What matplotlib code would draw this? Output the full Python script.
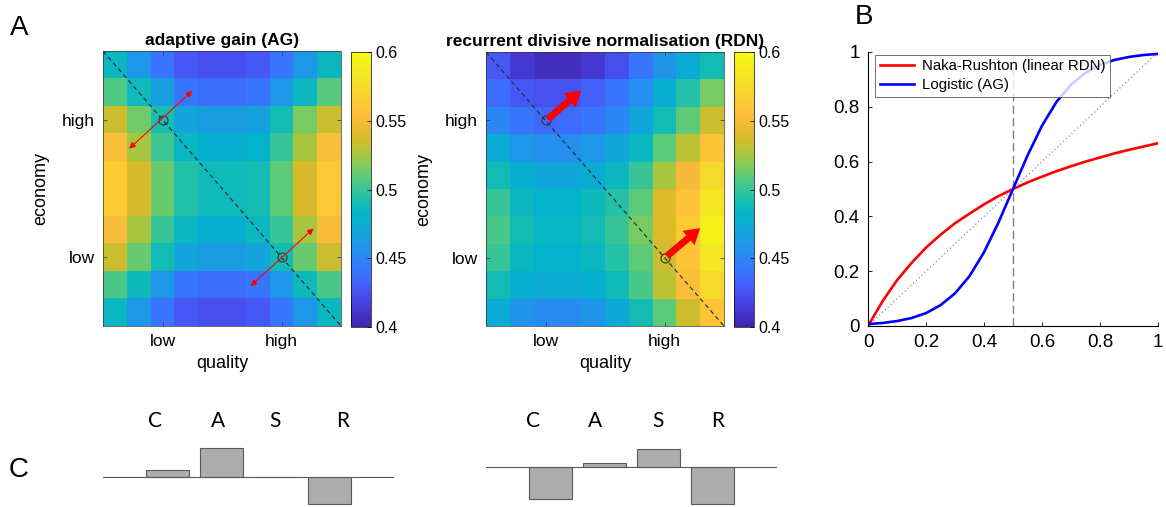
import numpy as np
import matplotlib
matplotlib.use("Agg")
from matplotlib import pyplot as plt
from matplotlib.colors import LinearSegmentedColormap

plt.rcParams["font.family"] = ["Liberation Sans", "DejaVu Sans"]

# heatmap values (rows: economy high -> low, cols: quality low -> high)
ag_map = [
    [0.485, 0.460, 0.440, 0.428, 0.424, 0.424, 0.428, 0.440, 0.460, 0.485],
    [0.506, 0.488, 0.465, 0.440, 0.437, 0.437, 0.440, 0.460, 0.486, 0.508],
    [0.534, 0.514, 0.492, 0.468, 0.464, 0.464, 0.467, 0.490, 0.515, 0.534],
    [0.555, 0.525, 0.502, 0.484, 0.478, 0.478, 0.480, 0.500, 0.525, 0.555],
    [0.565, 0.538, 0.512, 0.494, 0.488, 0.488, 0.490, 0.510, 0.538, 0.563],
    [0.565, 0.538, 0.512, 0.494, 0.488, 0.488, 0.490, 0.510, 0.538, 0.563],
    [0.552, 0.525, 0.500, 0.485, 0.478, 0.478, 0.485, 0.500, 0.525, 0.552],
    [0.534, 0.512, 0.490, 0.468, 0.464, 0.464, 0.468, 0.490, 0.512, 0.534],
    [0.505, 0.487, 0.460, 0.440, 0.437, 0.437, 0.440, 0.460, 0.487, 0.505],
    [0.485, 0.460, 0.440, 0.428, 0.424, 0.424, 0.428, 0.440, 0.460, 0.485],
]
rdn_map = [
    [0.428, 0.412, 0.406, 0.406, 0.412, 0.424, 0.440, 0.458, 0.475, 0.490],
    [0.436, 0.428, 0.425, 0.425, 0.432, 0.440, 0.455, 0.478, 0.495, 0.515],
    [0.450, 0.440, 0.434, 0.436, 0.440, 0.450, 0.470, 0.490, 0.510, 0.535],
    [0.475, 0.460, 0.455, 0.455, 0.460, 0.470, 0.485, 0.510, 0.530, 0.560],
    [0.490, 0.478, 0.470, 0.470, 0.475, 0.485, 0.500, 0.525, 0.550, 0.575],
    [0.500, 0.485, 0.480, 0.480, 0.487, 0.495, 0.510, 0.540, 0.560, 0.585],
    [0.505, 0.490, 0.483, 0.483, 0.490, 0.500, 0.515, 0.540, 0.565, 0.592],
    [0.500, 0.485, 0.480, 0.480, 0.485, 0.495, 0.510, 0.535, 0.560, 0.585],
    [0.490, 0.478, 0.475, 0.475, 0.478, 0.488, 0.505, 0.530, 0.555, 0.575],
    [0.475, 0.458, 0.452, 0.452, 0.458, 0.472, 0.490, 0.510, 0.535, 0.560],
]
tick_pos = [3, 8]
quality_labels = ["low", "high"]
economy_labels = ["high", "low"]
cbar_ticks = [0.4, 0.45, 0.5, 0.55, 0.6]

# panel B: transfer functions
x_in = [0.0, 0.05, 0.1, 0.15, 0.2, 0.25, 0.3, 0.35, 0.4, 0.45, 0.5,
        0.55, 0.6, 0.65, 0.7, 0.75, 0.8, 0.85, 0.9, 0.95, 1.0]
naka_rushton = [0.0, 0.09, 0.167, 0.23, 0.286, 0.333, 0.375, 0.41, 0.444, 0.474, 0.5,
                0.524, 0.545, 0.565, 0.583, 0.6, 0.615, 0.63, 0.643, 0.655, 0.667]
logistic = [0.007, 0.011, 0.018, 0.029, 0.047, 0.076, 0.119, 0.182, 0.269, 0.378, 0.5,
            0.622, 0.731, 0.818, 0.881, 0.924, 0.953, 0.971, 0.982, 0.989, 0.993]

# panel C: bar heights (arbitrary units)
casr = ["C", "A", "S", "R"]
bars_left = [6.7, 29, 0, -27.7]
bars_right = [-32, 4, 18, -37]

# approximate MATLAB parula
parula = LinearSegmentedColormap.from_list("parula", [
    (0.00, (0.2422, 0.1504, 0.6603)), (0.05, (0.2691, 0.2072, 0.8050)),
    (0.10, (0.2783, 0.2810, 0.9130)), (0.15, (0.2700, 0.3700, 0.9800)),
    (0.20, (0.2200, 0.4600, 0.9950)), (0.25, (0.1700, 0.5300, 0.9650)),
    (0.30, (0.1150, 0.5950, 0.9050)), (0.35, (0.0650, 0.6550, 0.8500)),
    (0.40, (0.0150, 0.7000, 0.8000)), (0.45, (0.0700, 0.7400, 0.7100)),
    (0.50, (0.2100, 0.7750, 0.6000)), (0.55, (0.3700, 0.7950, 0.4700)),
    (0.60, (0.5600, 0.7950, 0.3200)), (0.65, (0.7400, 0.7600, 0.2000)),
    (0.70, (0.8700, 0.7300, 0.1700)), (0.75, (0.9700, 0.7300, 0.2300)),
    (0.80, (0.9950, 0.7700, 0.2200)), (0.85, (0.9750, 0.8300, 0.1800)),
    (0.90, (0.9600, 0.8800, 0.1500)), (0.95, (0.9600, 0.9300, 0.1100)),
    (1.00, (0.9769, 0.9839, 0.0805)),
])

W, H = 1166, 507
fig = plt.figure(figsize=(W / 100, H / 100), dpi=100)


def px_axes(x0, y0, x1, y1):
    return fig.add_axes([x0 / W, 1 - y1 / H, (x1 - x0) / W, (y1 - y0) / H])


def heatmap(ax, cax, data, title):
    im = ax.imshow(np.array(data), cmap=parula, vmin=0.4, vmax=0.6, aspect="auto",
                   extent=(0.5, 10.5, 10.5, 0.5), interpolation="nearest")
    ax.plot([0.5, 10.5], [0.5, 10.5], color="0.15", lw=0.8, dashes=(4, 3))
    for p in tick_pos:
        ax.plot(p, p, "o", mfc="none", mec="0.2", ms=6.5, mew=0.8)
    ax.set_xticks(tick_pos, quality_labels)
    ax.set_yticks(tick_pos, economy_labels)
    ax.tick_params(direction="in", top=True, right=True, length=3, width=0.5,
                   labelsize=12.5, color="0.2", pad=6)
    ax.set_xlabel("quality", fontsize=13, labelpad=4)
    ax.set_ylabel("economy", fontsize=13, labelpad=9)
    ax.set_title(title, fontsize=12.5, fontweight="bold", pad=4)
    for s in ax.spines.values():
        s.set_linewidth(0.5)
        s.set_color("0.2")
    cb = fig.colorbar(im, cax=cax, ticks=cbar_ticks)
    cb.ax.set_yticklabels([f"{t:g}" for t in cbar_ticks])
    cb.ax.tick_params(direction="in", length=3, width=0.5, labelsize=11.5, pad=3)
    cb.outline.set_linewidth(0.5)
    return im


ax_ag = px_axes(103, 51, 341, 326)
cax_ag = px_axes(351, 52, 371, 327)
heatmap(ax_ag, cax_ag, ag_map, "adaptive gain (AG)")
thin = dict(arrowstyle="<|-|>", color="red", lw=0.8, mutation_scale=9, shrinkA=0, shrinkB=0)
ax_ag.annotate("", xy=(4.25, 1.95), xytext=(1.6, 4.05), arrowprops=thin)
ax_ag.annotate("", xy=(9.35, 6.95), xytext=(6.7, 9.05), arrowprops=thin)

ax_rdn = px_axes(486, 52, 724, 326)
cax_rdn = px_axes(734, 52, 754, 327)
heatmap(ax_rdn, cax_rdn, rdn_map, "recurrent divisive normalisation (RDN)")
thick = dict(arrowstyle="simple,head_length=1.1,head_width=1.35,tail_width=0.5",
             color="red", lw=0, mutation_scale=10, shrinkA=0, shrinkB=0)
ax_rdn.annotate("", xy=(4.5, 1.9), xytext=(3.1, 2.95), arrowprops=thick)
ax_rdn.annotate("", xy=(9.5, 6.93), xytext=(8.1, 7.95), arrowprops=thick)

# panel B
ax_b = px_axes(868, 52, 1158, 326)
ax_b.plot([0, 1], [0, 1], color="0.45", lw=0.8, ls=(0, (1, 2.5)))
ax_b.plot([0.5, 0.5], [0, 1], color="0.5", lw=1.0, ls=(0, (6, 3)))
ax_b.plot(x_in, naka_rushton, color="red", lw=1.9, label="Naka-Rushton (linear RDN)")
ax_b.plot(x_in, logistic, color="blue", lw=1.9, label="Logistic (AG)")
ax_b.set_xlim(0, 1)
ax_b.set_ylim(0, 1)
ax_b.set_xticks([0, 0.2, 0.4, 0.6, 0.8, 1], ["0", "0.2", "0.4", "0.6", "0.8", "1"])
ax_b.set_yticks([0, 0.2, 0.4, 0.6, 0.8, 1], ["0", "0.2", "0.4", "0.6", "0.8", "1"])
ax_b.tick_params(direction="in", length=3, width=0.6, labelsize=13.5, pad=6)
for side in ["top", "right"]:
    ax_b.spines[side].set_visible(False)
for side in ["left", "bottom"]:
    ax_b.spines[side].set_linewidth(0.8)
leg = ax_b.legend(loc="upper left", bbox_to_anchor=(0.025, 0.99), fontsize=10.8,
                  frameon=True, fancybox=False, edgecolor="0.2", handlelength=2.3,
                  borderpad=0.3, labelspacing=0.35, handletextpad=0.5, borderaxespad=0)
leg.get_frame().set_linewidth(0.6)

# panel C
letter_font = ["Lato", "DejaVu Sans"]
for (x0, x1, base_y, vals, label_x) in [
    (103, 394, 476.7, bars_left, [-0.24, 0.93, 1.99, 3.25]),
    (486, 777, 467, bars_right, [-0.33, 0.83, 2.0, 3.1]),
]:
    ax = px_axes(x0, 405, x1, 507)
    ax.bar(range(len(casr)), vals, width=0.8, color="0.68", edgecolor="0.35", lw=0.8)
    ax.axhline(0, color="0.35", lw=0.8)
    ax.set_xlim(-1.2, 4.2)
    ax.set_ylim(-(507 - base_y), base_y - 405)
    ax.axis("off")
    for lx, name in zip(label_x, casr):
        ax.text(lx, base_y - 421, name, ha="center", va="center", fontsize=15,
                family=letter_font)

fig.text(19 / W, 1 - 28 / H, "A", fontsize=20, ha="center", va="center")
fig.text(864 / W, 1 - 17 / H, "B", fontsize=20, ha="center", va="center")
fig.text(19 / W, 1 - 470 / H, "C", fontsize=20, ha="center", va="center")

fig.savefig("out.png", dpi=100)
